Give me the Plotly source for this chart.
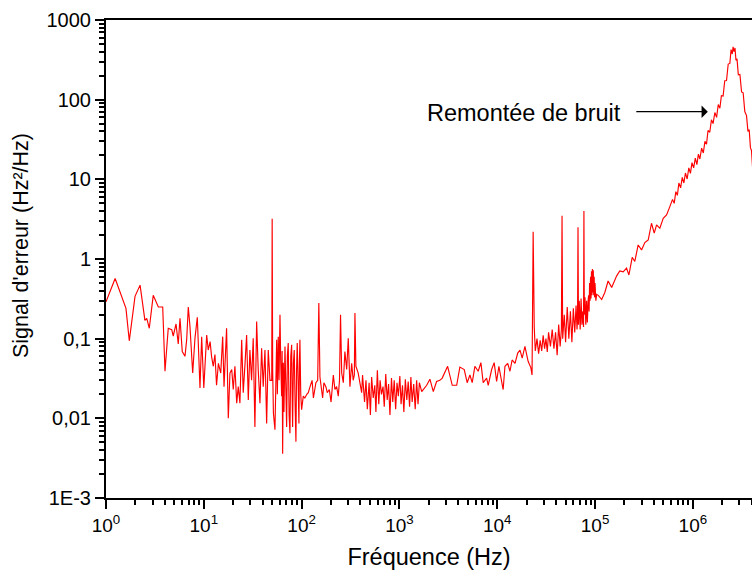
import plotly.graph_objects as go

# ---------------- data ----------------
# 1 Hz - 100 Hz
f_low = [1.0, 1.24, 1.60, 1.73, 1.98, 2.23, 2.50, 2.61, 2.77, 3.04, 3.43, 3.80, 4.01, 4.33,
         4.70, 4.87, 5.20, 5.48, 5.71, 6.02, 6.42, 6.68, 6.94, 7.22, 7.70, 8.12, 8.58, 9.14,
         9.51, 10.0, 10.7, 11.1, 11.6, 12.0, 12.5, 13.0, 13.5, 14.1, 14.9, 15.6, 16.1, 17.1,
         17.8, 18.5, 19.3, 20.0, 20.8, 21.7, 22.5, 23.4, 24.4, 25.3, 26.4, 27.4, 28.5, 29.6,
         30.8, 32.0, 33.3, 34.7, 36.0, 37.5, 39.0, 40.5, 42.2, 43.9, 45.6, 47.5, 49.5, 50.0,
         50.6, 51.5, 53.4, 55.6, 56.5, 57.7, 58.8, 60.1, 61.2, 62.5, 63.2, 64.0, 65.0, 66.0,
         67.6, 68.8, 70.3, 71.5, 73.0, 74.5, 76.0, 77.5, 79.1, 80.0, 80.9, 82.5, 84.1, 85.8,
         87.5, 88.8, 90.2, 92.0, 93.9, 95.0, 96.1, 98.0, 100.0]
v_low = [0.29, 0.57, 0.24, 0.094, 0.34, 0.47, 0.17, 0.18, 0.135, 0.35, 0.25, 0.25, 0.039, 0.135,
         0.13, 0.108, 0.153, 0.086, 0.18, 0.069, 0.060, 0.097, 0.25, 0.142, 0.037, 0.101, 0.186, 0.024,
         0.106, 0.024, 0.111, 0.072, 0.092, 0.060, 0.045, 0.063, 0.026, 0.049, 0.037, 0.106, 0.025, 0.135,
         0.010, 0.037, 0.041, 0.023, 0.045, 0.0155, 0.025, 0.0155, 0.097, 0.021, 0.049, 0.111, 0.017, 0.072,
         0.030, 0.101, 0.0078, 0.164, 0.041, 0.0155, 0.076, 0.025, 0.072, 0.0086, 0.072, 0.030, 0.030, 3.2,
         0.040, 0.0116, 0.0072, 0.097, 0.020, 0.106, 0.030, 0.199, 0.050, 0.019, 0.070, 0.0036, 0.050, 0.012,
         0.080, 0.020, 0.0078, 0.060, 0.088, 0.011, 0.0065, 0.060, 0.084, 0.020, 0.0078, 0.050, 0.072, 0.015,
         0.0051, 0.040, 0.088, 0.030, 0.0086, 0.050, 0.097, 0.020, 0.0128]

# 100 Hz - 420 Hz
f_mid = [104, 108, 113, 117, 122, 128, 132, 140, 146, 150, 154, 164, 169, 177, 183, 192, 200,
         211, 219, 228, 237, 244, 250, 257, 267, 277, 289, 300, 312, 325, 337, 346, 351, 359,
         379, 395, 411]
v_mid = [0.019, 0.018, 0.020, 0.021, 0.025, 0.030, 0.018, 0.028, 0.030, 0.28, 0.033, 0.018, 0.028,
         0.025, 0.021, 0.023, 0.016, 0.035, 0.023, 0.025, 0.019, 0.030, 0.20, 0.037, 0.028, 0.069,
         0.041, 0.101, 0.025, 0.049, 0.030, 0.035, 0.21, 0.045, 0.037, 0.028, 0.021]

# 420 Hz - 1.6 kHz (dense noisy band)
f_band = [420, 440, 455, 470, 490, 505, 520, 540, 560, 575, 595, 615, 635, 655, 680, 700, 725,
          750, 775, 800, 830, 855, 885, 915, 945, 975, 1010, 1040, 1075, 1110, 1150, 1190, 1230,
          1270, 1310, 1350, 1400, 1450, 1500, 1550, 1600]
v_band = [0.035, 0.016, 0.030, 0.013, 0.028, 0.011, 0.033, 0.018, 0.026, 0.012, 0.040, 0.015, 0.030,
          0.020, 0.025, 0.014, 0.036, 0.017, 0.027, 0.011, 0.032, 0.016, 0.030, 0.013, 0.028, 0.019,
          0.034, 0.015, 0.026, 0.012, 0.031, 0.017, 0.029, 0.014, 0.033, 0.016, 0.027, 0.013, 0.030,
          0.015, 0.028]

# 1.6 kHz - 23 kHz
f_rise = [1690, 1900, 2050, 2220, 2400, 2590, 2740, 3110, 3470, 3850, 4150, 4600, 4930, 5260, 5550,
          5910, 6390, 6810, 7190, 7790, 8090, 8770, 9310, 9860, 10400, 11100, 11500, 12000, 12800,
          13500, 14200, 15200, 16200, 17100, 18000, 19200, 20700, 22100, 22700]
v_rise = [0.0217, 0.026, 0.031, 0.0217, 0.029, 0.030, 0.032, 0.045, 0.026, 0.026, 0.044, 0.041, 0.028,
          0.035, 0.028, 0.045, 0.039, 0.050, 0.028, 0.032, 0.026, 0.041, 0.050, 0.029, 0.045, 0.029,
          0.023, 0.045, 0.049, 0.039, 0.054, 0.049, 0.066, 0.072, 0.057, 0.080, 0.052, 0.043, 0.035]

# 23 kHz - 105 kHz (spurs and noisy band)
f_spur = [23300, 23900, 24500, 25500, 26500, 27500, 28500, 29500, 30500, 31500, 32500, 33500, 35000,
          36500, 38000, 39500, 41000, 42500, 44000, 45300, 46000, 46700, 48500, 50000, 52000, 54000,
          56000, 58000, 60000, 62000, 64000, 65500, 66300, 67000, 67700, 69000, 70500, 72000, 73500,
          75000, 76300, 77000, 77700, 79000, 80500, 82000, 83500, 85000, 86000, 87000, 88000, 89000,
          90000, 91000, 92000, 93000, 94000, 95000, 96000, 97000, 98000, 99000, 100000, 102000, 104000]
v_spur = [2.2, 0.14, 0.070, 0.10, 0.065, 0.095, 0.070, 0.11, 0.075, 0.10, 0.068, 0.12, 0.080,
          0.13, 0.075, 0.12, 0.062, 0.15, 0.080, 0.13, 3.5, 0.10, 0.20, 0.090, 0.25, 0.10,
          0.22, 0.090, 0.24, 0.12, 0.26, 0.13, 0.20, 2.5, 0.15, 0.30, 0.13, 0.32, 0.15,
          0.22, 0.14, 4.0, 0.20, 0.33, 0.15, 0.30, 0.16, 0.30, 0.35, 0.22, 0.50, 0.30,
          0.60, 0.32, 0.70, 0.35, 0.75, 0.38, 0.72, 0.35, 0.60, 0.33, 0.50, 0.30, 0.36]

# 105 kHz - 600 kHz
f_high = [108000, 117000, 126000, 136000, 148000, 166000, 179000, 194000, 210000, 222000, 240000,
          255000, 276000, 299000, 323000, 350000, 378000, 403000, 426000, 460000, 498000, 539000,
          582000]
v_high = [0.35, 0.31, 0.38, 0.53, 0.44, 0.61, 0.71, 0.69, 0.77, 0.63, 1.05, 0.93, 1.50, 1.30, 1.61,
          1.74, 2.81, 2.11, 2.68, 2.43, 3.25, 3.57, 4.54]

# 600 kHz - 4.1 MHz (noise rise / resonance)
f_peak = [620e3, 645e3, 670e3, 695e3, 720e3, 750e3, 780e3, 810e3, 840e3, 875e3, 910e3, 945e3, 980e3,
          1.02e6, 1.06e6, 1.10e6, 1.14e6, 1.18e6, 1.23e6, 1.28e6, 1.33e6, 1.38e6, 1.43e6, 1.49e6,
          1.55e6, 1.61e6, 1.68e6, 1.75e6, 1.82e6, 1.89e6, 1.96e6, 2.04e6, 2.12e6, 2.21e6, 2.30e6,
          2.39e6, 2.46e6, 2.53e6, 2.58e6, 2.64e6, 2.70e6, 2.76e6, 2.83e6, 2.92e6, 3.03e6, 3.15e6,
          3.27e6, 3.40e6, 3.54e6, 3.66e6, 3.77e6, 3.88e6, 3.98e6, 4.10e6]
v_peak = [5.6, 5.0, 7.0, 6.3, 9.0, 7.8, 10.6, 9.0, 12.0, 10.1, 13.9, 11.9, 16.2,
          13.9, 18.5, 15.3, 20.7, 18.0, 24.6, 21.4, 30, 27.6, 41, 39,
          56, 50, 69, 60, 87, 78, 112, 111, 173, 174, 280,
          285, 425, 374, 460, 400, 445, 312, 325, 205, 207, 125,
          122, 71, 63, 40, 42, 25, 23, 13]

freq = f_low + f_mid + f_band + f_rise + f_spur + f_high + f_peak
psd = v_low + v_mid + v_band + v_rise + v_spur + v_high + v_peak

x_tick_vals = [1, 10, 100, 1e3, 1e4, 1e5, 1e6]
x_tick_text = ["10<sup>0</sup>", "10<sup>1</sup>", "10<sup>2</sup>", "10<sup>3</sup>",
               "10<sup>4</sup>", "10<sup>5</sup>", "10<sup>6</sup>"]
y_tick_vals = [1e-3, 1e-2, 0.1, 1, 10, 100, 1000]
y_tick_text = ["1E-3", "0,01", "0,1", "1", "10", "100", "1000"]
x_title = "Fréquence (Hz)"
y_title = "Signal d'erreur (Hz²/Hz)"
note_text = "Remontée de bruit"

x_minor = [m * 10 ** d for d in range(0, 7) for m in range(2, 10) if m * 10 ** d < 4.2e6]
y_minor = [m * 10.0 ** d for d in range(-3, 3) for m in range(2, 10)]

FONT = "Liberation Sans, Arial, sans-serif"

fig = go.Figure()
fig.add_trace(go.Scatter(x=freq, y=psd, mode="lines",
                         line=dict(color="#ff0000", width=1.15), showlegend=False))

axis_common = dict(
    type="log", showgrid=False, zeroline=False, showline=True, linewidth=2, linecolor="black",
    ticks="outside", ticklen=9, tickwidth=2, tickcolor="black", tickmode="array",
)

fig.update_xaxes(**axis_common, range=[0, 6.605], tickvals=x_tick_vals, ticktext=x_tick_text,
                 mirror=True, tickfont=dict(size=19, family=FONT, color="black"),
                 title=dict(text=x_title, font=dict(size=23.5, family=FONT, color="black"), standoff=14),
                 minor=dict(tickmode="array", tickvals=x_minor, ticks="outside", ticklen=5,
                            tickwidth=1.5, tickcolor="black", showgrid=False))
fig.update_yaxes(**axis_common, range=[-3, 3], tickvals=y_tick_vals, ticktext=y_tick_text,
                 mirror=False, tickfont=dict(size=20, family=FONT, color="black"),
                 minor=dict(tickmode="array", tickvals=y_minor, ticks="outside", ticklen=5,
                            tickwidth=1.5, tickcolor="black", showgrid=False))

# y-axis title (placed as a rotated annotation so it sits slightly above the plot centre, like the reference)
fig.add_annotation(x=-0.1316, y=0.529, xref="paper", yref="paper", text=y_title, textangle=-90,
                   showarrow=False, xanchor="center", yanchor="middle",
                   font=dict(size=21.5, family=FONT, color="black"))

fig.add_annotation(x=6.153, y=1.849, xref="x", yref="y", text="", showarrow=True,
                   ax=-73, ay=0, arrowhead=1, arrowsize=1.6, arrowwidth=1.3, arrowcolor="black")
fig.add_annotation(x=4.270, y=1.833, xref="x", yref="y", text=note_text, showarrow=False,
                   xanchor="center", yanchor="middle",
                   font=dict(size=23.5, family=FONT, color="black"))

fig.update_layout(width=752, height=577, margin=dict(l=106, r=0, t=20, b=79),
                  paper_bgcolor="white", plot_bgcolor="white",
                  font=dict(family=FONT, color="black"), showlegend=False)

# remove the default 8px page margin so the figure fills the 752x577 window exactly
fig.write_html("out.html", config={"displayModeBar": False},
               post_script="document.body.style.margin='0';document.body.style.overflow='hidden';")
